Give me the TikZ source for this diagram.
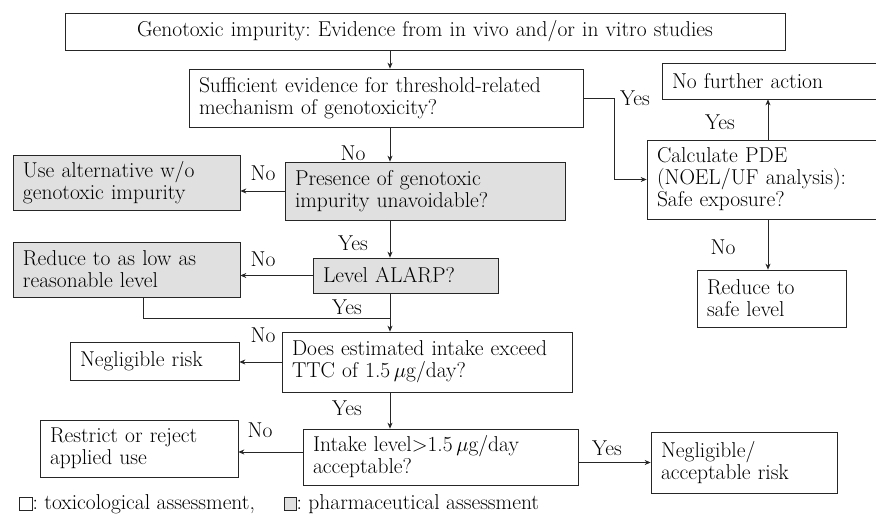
\documentclass[tikz,border=0pt]{standalone}
\usepackage{amsmath}
\usetikzlibrary{arrows.meta,positioning,calc}
\tikzset{
	tox/.style={draw=black!85, line width=0.7pt, fill=white, inner xsep=10pt, inner ysep=0pt, align=left, font=\fontsize{21.5}{22}\selectfont},
	pharm/.style={tox, fill=black!12},
	edge/.style={color=black!85, line width=0.7pt},
	diredge/.style={->, >={Stealth[width=5pt,length=6pt]}, color=black!85, line width=0.7pt},
	ans/.style={inner sep=0pt, font=\fontsize{21.5}{22}\selectfont}
}
\frenchspacing

\begin{document}
\begin{tikzpicture}[x=1pt,y=-1pt]
	\useasboundingbox (0,0) rectangle (876,518);

	%%main column
	\node[tox, text width=700pt, minimum height=37pt, align=center] (genotox) at (425,31.5) {Genotoxic impurity: Evidence from in vivo and/or in vitro studies};
	\node[tox, text width=374pt, minimum height=58pt] (suff) at (386,98) {Sufficient evidence for threshold-related\\mechanism of genotoxicity?};
	\node[pharm, text width=260pt, minimum height=58pt] (presence) at (425,191) {Presence of genotoxic\\impurity unavoidable?};
	\node[pharm, text width=165pt, minimum height=35pt] (level) at (405.5,275.5) {Level ALARP?};
	\node[tox, text width=270pt, minimum height=60pt] (does) at (427,362) {Does estimated intake exceed\\TTC of 1.5\,$\mu$g/day?};
	\node[tox, text width=255pt, minimum height=56pt] (intake) at (440.5,457) {Intake level$>$1.5\,$\mu$g/day\\acceptable?};

	%%left column
	\node[pharm, text width=207pt, minimum height=55pt] (usealt) at (126.5,183) {Use alternative w/o\\genotoxic impurity};
	\node[pharm, text width=207pt, minimum height=55pt] (alarp) at (126.5,269.5) {Reduce to as low as\\reasonable level};
	\node[tox, text width=149pt, minimum height=38pt] (negl) at (154.5,361) {Negligible risk};
	\node[tox, text width=178pt, minimum height=57pt] (restrict) at (139,448.5) {Restrict or reject\\applied use};

	%%right column
	\node[tox, text width=198pt, minimum height=36pt] (nofurther) at (771,81) {No further action};
	\node[tox, text width=213pt, minimum height=79pt] (calc) at (763.5,179.5) {Calculate PDE\\(NOEL/UF analysis):\\Safe exposure?};
	\node[tox, text width=129pt, minimum height=57pt] (safe) at (771.5,298.5) {Reduce to\\safe level};
	\node[tox, text width=166pt, minimum height=61pt] (accept) at (744,462.5) {Negligible/\\acceptable risk};

	\coordinate (spine) at (390,0);
	\coordinate (cy) at (768,0);
	\coordinate (merge) at (390,318);

	%%%%%% EDGES

	%% down the main column
	\draw[diredge] (genotox.south -| spine) -- (suff.north -| spine);
	\draw[diredge] (suff.south -| spine) -- (presence.north -| spine);
	\draw[diredge] (presence.south -| spine) -- (level.north -| spine);
	\draw[diredge] (level.south -| spine) -- (does.north -| spine);
	\draw[diredge] (does.south -| spine) -- (intake.north -| spine);

	%% to the left
	\draw[diredge] (presence.west) -- (presence.west -| usealt.east);
	\draw[diredge] (level.west) -- (level.west -| alarp.east);
	\draw[edge] ([xshift=17pt]alarp.south) |- (merge);
	\draw[diredge] (does.west) -- (does.west -| negl.east);
	\draw[diredge] ([yshift=5pt]intake.west) -- ([yshift=5pt]intake.west -| restrict.east);

	%% to the right
	\draw[diredge] (suff.east) -- ++(31,0) |- (calc.west);
	\draw[diredge] (calc.north -| cy) -- (nofurther.south -| cy);
	\draw[diredge] (calc.south -| cy) -- (safe.north -| cy);
	\draw[diredge] (accept.west -| intake.east) -- (accept.west);

	%% answers
	\node[ans] (a1) at (353,153) {No};
	\node[ans] (a2) at (263,173) {No};
	\node[ans] (a3) at (353,243) {Yes};
	\node[ans] (a4) at (263,259) {No};
	\node[ans] (a5) at (347,307) {Yes};
	\node[ans] (a6) at (263,335) {No};
	\node[ans] (a7) at (347,408) {Yes};
	\node[ans] (a8) at (260,430) {No};
	\node[ans] (a9) at (607,448) {Yes};
	\node[ans] (a10) at (635,98) {Yes};
	\node[ans] (a11) at (720,122) {Yes};
	\node[ans] (a12) at (723,247) {No};

	%% legend
	\node[tox, minimum width=13pt, minimum height=13pt, inner sep=0pt] (keytox) at (25.5,504) {};
	\node[ans, anchor=west] (keytoxtext) at (keytox.east) {: toxicological assessment,};
	\node[pharm, minimum width=12pt, minimum height=13pt, inner sep=0pt] (keypharm) at (290,504) {};
	\node[ans, anchor=west] (keypharmtext) at (keypharm.east) {: pharmaceutical assessment};

\end{tikzpicture}
\end{document}
